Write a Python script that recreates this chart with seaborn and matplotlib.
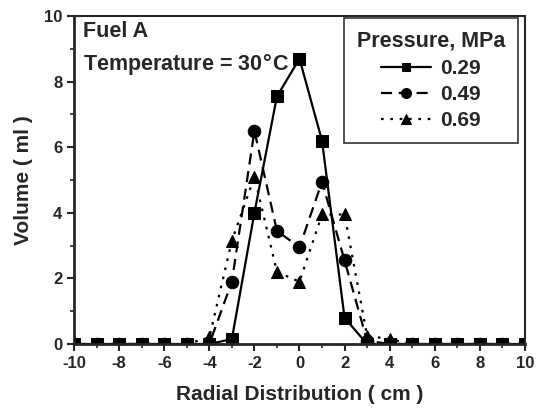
import numpy as np
import pandas as pd
import matplotlib
matplotlib.use("Agg")
import matplotlib.pyplot as plt
import seaborn as sns
from matplotlib.ticker import MultipleLocator

# =====================================================
# DATA
# =====================================================

radial = list(range(-10, 11))

vol_029 = [0, 0, 0, 0, 0, 0, 0, 0.15, 4.0, 7.55, 8.7, 6.2, 0.8, 0, 0, 0, 0, 0, 0, 0, 0]
vol_049 = [0, 0, 0, 0, 0, 0, 0, 1.9, 6.5, 3.45, 2.95, 4.95, 2.55, 0.1, 0, 0, 0, 0, 0, 0, 0]
vol_069 = [0, 0, 0, 0, 0, 0, 0.2, 3.15, 5.1, 2.2, 1.9, 3.95, 3.95, 0.25, 0.15, 0, 0, 0, 0, 0, 0]

pressures = ["0.29", "0.49", "0.69"]

df = pd.DataFrame({
    "Radial": radial * 3,
    "Volume": vol_029 + vol_049 + vol_069,
    "Pressure": np.repeat(pressures, len(radial)),
})

# =====================================================
# STYLE
# =====================================================

sns.set_style("ticks")
plt.rcParams["font.family"] = ["Liberation Sans", "DejaVu Sans"]
plt.rcParams["font.weight"] = "bold"
plt.rcParams["axes.unicode_minus"] = False

fig = plt.figure(figsize=(5.45, 4.12), dpi=100)
ax = fig.add_axes([0.136, 0.165, 0.827, 0.796])

estilos = {
    "0.29": ("-", "s", 8),
    "0.49": ((0, (5, 3)), "o", 9),
    "0.69": ((0, (1.2, 3)), "^", 9),
}

for p in pressures:
    ls, mk, ms = estilos[p]
    sns.lineplot(
        data=df[df["Pressure"] == p],
        x="Radial",
        y="Volume",
        ax=ax,
        color="black",
        linestyle=ls,
        marker=mk,
        markersize=ms,
        markeredgecolor="black",
        linewidth=1.6,
        label=p,
    )

ax.set_xlim(-10, 10)
ax.set_ylim(0, 10)
ax.xaxis.set_major_locator(MultipleLocator(2))
ax.xaxis.set_minor_locator(MultipleLocator(1))
ax.yaxis.set_major_locator(MultipleLocator(2))
ax.yaxis.set_minor_locator(MultipleLocator(1))

ax.tick_params(axis="both", which="major", direction="out", length=5, width=1.5, labelsize=12)
ax.tick_params(axis="both", which="minor", direction="out", length=3, width=1.2)
plt.setp(ax.get_xticklabels() + ax.get_yticklabels(), fontweight="bold")

for s in ax.spines.values():
    s.set_visible(True)
    s.set_linewidth(1.5)
ax.spines["left"].set_linewidth(2)
ax.spines["bottom"].set_linewidth(2)

ax.set_xlabel("Radial Distribution ( cm )", fontsize=15, fontweight="bold", labelpad=10)
ax.set_ylabel("Volume ( ml )", fontsize=15, fontweight="bold", labelpad=8)

ax.text(0.02, 0.985, "Fuel A", transform=ax.transAxes, fontsize=15.5,
        fontweight="bold", va="top", ha="left")
ax.text(0.02, 0.89, "Temperature = 30$\\degree$C", transform=ax.transAxes, fontsize=15.5,
        fontweight="bold", va="top", ha="left")

leg = ax.legend(
    title="Pressure, MPa",
    loc="upper right",
    bbox_to_anchor=(0.984, 0.994),
    borderaxespad=0,
    fontsize=15,
    title_fontproperties={"weight": "bold", "size": 15.5},
    frameon=True,
    fancybox=False,
    edgecolor="black",
    handlelength=2.4,
    handletextpad=0.4,
    labelspacing=0.35,
    borderpad=0.6,
    markerscale=0.8,
)
leg.get_frame().set_linewidth(1.2)

fig.savefig("out.png", dpi=100)
